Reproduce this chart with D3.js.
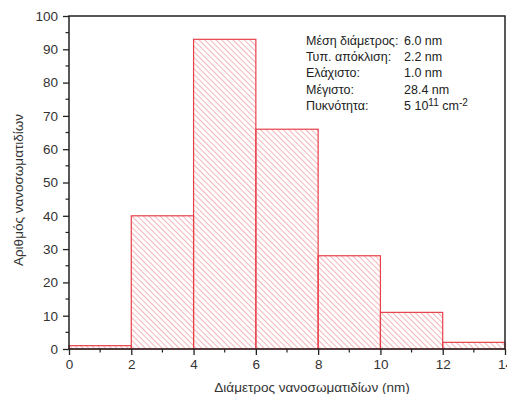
<!DOCTYPE html>
<html>
<head>
<meta charset="utf-8">
<script src="https://cdn.jsdelivr.net/npm/d3@7"></script>
<style>
  html, body { margin: 0; padding: 0; background: #fff; }
  svg { display: block; font-family: "Liberation Sans", Arial, sans-serif; }
</style>
</head>
<body>
<svg id="chart" width="507" height="394"></svg>
<script>
// Histogram of nanoparticle diameters (bins of 2 nm)
const binStarts = [0, 2, 4, 6, 8, 10, 12];
const binWidth = 2;
const counts = [1, 40, 93, 66, 28, 11, 2];
const xTicks = [0, 2, 4, 6, 8, 10, 12, 14];
const yTicks = [0, 10, 20, 30, 40, 50, 60, 70, 80, 90, 100];
const statLabels = ["Μέση διάμετρος:", "Τυπ. απόκλιση:", "Ελάχιστο:", "Μέγιστο:", "Πυκνότητα:"];
const statValues = ["6.0 nm", "2.2 nm", "1.0 nm", "28.4 nm", null];
const xTitle = "Διάμετρος νανοσωματιδίων (nm)";
const yTitle = "Αριθμός νανοσωματιδίων";

const svg = d3.select("#chart");
const plot = { left: 69, right: 505, top: 16, bottom: 349 };

const x = d3.scaleLinear().domain([0, 14]).range([plot.left, plot.right]);
const y = d3.scaleLinear().domain([0, 100]).range([plot.bottom, plot.top]);

// diagonal hatch fill
const defs = svg.append("defs");
const pat = defs.append("pattern")
  .attr("id", "hatch")
  .attr("patternUnits", "userSpaceOnUse")
  .attr("width", 4).attr("height", 4)
  .attr("patternTransform", "rotate(-45)");
pat.append("line")
  .attr("x1", 0).attr("y1", 0).attr("x2", 0).attr("y2", 4)
  .attr("stroke", "#eb8288").attr("stroke-width", 1.2);

// bars
const bars = binStarts.map((b, i) => ({ x0: b, x1: b + binWidth, v: counts[i] }));
svg.append("g").selectAll("rect").data(bars).join("rect")
  .attr("x", d => x(d.x0))
  .attr("y", d => y(d.v))
  .attr("width", d => x(d.x1) - x(d.x0))
  .attr("height", d => y(0) - y(d.v))
  .attr("fill", "url(#hatch)")
  .attr("stroke", "#e8404a")
  .attr("stroke-width", 1.2);

// frame
svg.append("rect")
  .attr("x", plot.left).attr("y", plot.top)
  .attr("width", plot.right - plot.left).attr("height", plot.bottom - plot.top)
  .attr("fill", "none").attr("stroke", "#222").attr("stroke-width", 1.5);

// y axis
const yAxis = d3.axisLeft(y).tickValues(yTicks).tickSize(6).tickPadding(5).tickFormat(d3.format("d"));
const gy = svg.append("g").attr("transform", `translate(${plot.left},0)`).call(yAxis);
gy.select(".domain").remove();
gy.selectAll(".tick line").attr("stroke", "#222").attr("stroke-width", 1.3);
gy.selectAll(".tick text").attr("fill", "#333").style("font-size", "13.5px")
  .style("font-family", "Liberation Sans, Arial, sans-serif");
const yMinor = d3.range(5, 100, 10);
svg.append("g").selectAll("line").data(yMinor).join("line")
  .attr("x1", plot.left - 3.5).attr("x2", plot.left)
  .attr("y1", d => y(d)).attr("y2", d => y(d))
  .attr("stroke", "#222").attr("stroke-width", 1.2);

// x axis
const xAxis = d3.axisBottom(x).tickValues(xTicks).tickSize(6).tickPadding(4).tickFormat(d3.format("d"));
const gx = svg.append("g").attr("transform", `translate(0,${plot.bottom})`).call(xAxis);
gx.select(".domain").remove();
gx.selectAll(".tick line").attr("stroke", "#222").attr("stroke-width", 1.3);
gx.selectAll(".tick text").attr("fill", "#333").style("font-size", "13.5px")
  .style("font-family", "Liberation Sans, Arial, sans-serif");
const xMinor = d3.range(1, 14, 2);
svg.append("g").selectAll("line").data(xMinor).join("line")
  .attr("x1", d => x(d)).attr("x2", d => x(d))
  .attr("y1", plot.bottom).attr("y2", plot.bottom + 3.5)
  .attr("stroke", "#222").attr("stroke-width", 1.2);

// axis titles
svg.append("text")
  .attr("x", 312).attr("y", 392)
  .attr("text-anchor", "middle")
  .attr("fill", "#333").style("font-size", "13.5px")
  .text(xTitle);
svg.append("text")
  .attr("transform", `translate(23,190) rotate(-90)`)
  .attr("text-anchor", "middle")
  .attr("fill", "#333").style("font-size", "13.5px")
  .text(yTitle);

// statistics box
const stats = svg.append("g").attr("fill", "#222").style("font-size", "12.5px");
statLabels.forEach((lab, i) => {
  const by = 45 + i * 16.2;
  stats.append("text").attr("x", 306).attr("y", by).text(lab);
  if (statValues[i] !== null) {
    stats.append("text").attr("x", 404).attr("y", by).text(statValues[i]);
  } else {
    const t = stats.append("text").attr("x", 404).attr("y", by + 0.5);
    t.append("tspan").text("5 10");
    t.append("tspan").attr("dy", -4).style("font-size", "10px").text("11");
    t.append("tspan").attr("dy", 4).text(" cm");
    t.append("tspan").attr("dy", -4).style("font-size", "10px").text("-2");
  }
});
</script>
</body>
</html>
